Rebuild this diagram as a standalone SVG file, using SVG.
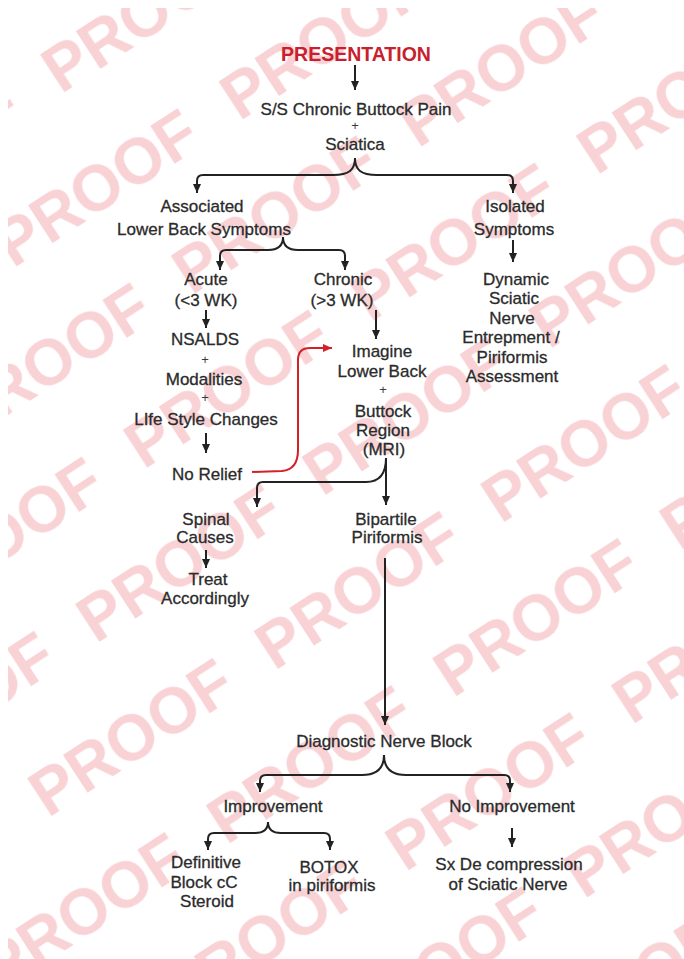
<svg xmlns="http://www.w3.org/2000/svg" width="684" height="959" viewBox="0 0 684 959">
<style>
  .t { font-family: "Liberation Sans", Arial, sans-serif; font-size: 17px; fill: #2b2b2b; stroke: #2b2b2b; stroke-width: 0.3; text-anchor: middle; }
  .p { font-family: "Liberation Sans", Arial, sans-serif; font-size: 13px; fill: #3a3a3a; text-anchor: middle; }
  .title { font-family: "Liberation Sans", Arial, sans-serif; font-size: 19.5px; font-weight: bold; fill: #c8202c; text-anchor: middle; }
  .c { fill: none; stroke: #222; stroke-width: 2; marker-end: url(#ah); }
  .red { fill: none; stroke: #d61f26; stroke-width: 2; marker-end: url(#ahr); }
  .wm { font-family: "Liberation Sans", Arial, sans-serif; font-size: 64px; font-weight: bold; fill: #f8d2d5; }
</style>
<defs>
  <marker id="ah" markerUnits="userSpaceOnUse" markerWidth="10" markerHeight="10" refX="9" refY="4" orient="auto">
    <path d="M0,0 L9,4 L0,8 z" fill="#222"/>
  </marker>
  <marker id="ahr" markerUnits="userSpaceOnUse" markerWidth="10" markerHeight="10" refX="9" refY="4" orient="auto">
    <path d="M0,0 L9,4 L0,8 z" fill="#d61f26"/>
  </marker>
  <pattern id="wmp" patternUnits="userSpaceOnUse" width="270" height="240" patternTransform="translate(380,90) rotate(-33)">
    <text class="wm" x="0" y="70">PROOF</text>
    <text class="wm" x="-135" y="190">PROOF</text>
    <text class="wm" x="135" y="190">PROOF</text>
  </pattern>
</defs>
<rect width="684" height="959" fill="#ffffff"/>
<g id="watermark">
  <rect x="8" y="8" width="676" height="951" fill="url(#wmp)"/>
</g>
<g id="connectors">
  <path class="c" d="M355,65 L355,90"/>
  <path class="c" d="M355,158 C355,170 349,175 333,175 L203,175 Q197,175 197,181 L197,193"/>
  <path class="c" d="M355,158 C355,170 361,175 377,175 L507,175 Q513,175 513,181 L513,193"/>
  <path class="c" d="M513,240 L513,262"/>
  <path class="c" d="M283,237 C283,246 278,250 268,250 L226,250 Q220,250 220,256 L220,270"/>
  <path class="c" d="M283,237 C283,246 288,250 298,250 L339,250 Q345,250 345,256 L345,270"/>
  <path class="c" d="M206,310 L206,328"/>
  <path class="c" d="M376,310 L376,339"/>
  <path class="c" d="M206,433 L206,453"/>
  <path class="red" d="M252,472 L282,471 C293,470 298,462 298,450 L298,360 C298,352 302,348 310,348 L332,348"/>
  <path class="c" d="M386,458 C386,474 380,482 366,482 L263,482 Q257,482 257,488 L257,507"/>
  <path class="c" d="M386,458 L386,505"/>
  <path class="c" d="M206,550 L206,568"/>
  <path class="c" d="M385,558 L385,725"/>
  <path class="c" d="M384,755 C384,767 378,775 362,775 L266,775 Q260,775 260,781 L260,792"/>
  <path class="c" d="M384,755 C384,767 390,775 406,775 L504,775 Q510,775 510,781 L510,792"/>
  <path class="c" d="M268,822 C268,829 264,833 255,833 L214,833 Q208,833 208,839 L208,850"/>
  <path class="c" d="M268,822 C268,829 272,833 281,833 L324,833 Q330,833 330,839 L330,850"/>
  <path class="c" d="M512,828 L512,847"/>
</g>
<g id="presentation"><text class="title" x="356" y="61">PRESENTATION</text></g>
<g id="ss">
  <text class="t" x="356" y="115">S/S Chronic Buttock Pain</text>
  <text class="p" x="355" y="130">+</text>
  <text class="t" x="355" y="150">Sciatica</text>
</g>
<g id="associated">
  <text class="t" x="202" y="212">Associated</text>
  <text class="t" x="204" y="235">Lower Back Symptoms</text>
</g>
<g id="isolated">
  <text class="t" x="515" y="212">Isolated</text>
  <text class="t" x="514" y="235">Symptoms</text>
</g>
<g id="acute">
  <text class="t" x="206" y="285">Acute</text>
  <text class="t" x="206" y="306">(&lt;3 WK)</text>
</g>
<g id="chronic">
  <text class="t" x="343" y="285">Chronic</text>
  <text class="t" x="342" y="306">(&gt;3 WK)</text>
</g>
<g id="dynamic">
  <text class="t" x="516" y="285">Dynamic</text>
  <text class="t" x="514" y="304">Sciatic</text>
  <text class="t" x="512" y="324">Nerve</text>
  <text class="t" x="511" y="343">Entrepment /</text>
  <text class="t" x="512" y="363">Piriformis</text>
  <text class="t" x="512" y="382">Assessment</text>
</g>
<g id="nsaids">
  <text class="t" x="205" y="345">NSALDS</text>
  <text class="p" x="205" y="364">+</text>
  <text class="t" x="204" y="385">Modalities</text>
  <text class="p" x="205" y="402">+</text>
  <text class="t" x="206" y="425">LIfe Style Changes</text>
</g>
<g id="norelief"><text class="t" x="207" y="480">No Relief</text></g>
<g id="imaging">
  <text class="t" x="382" y="357">Imagine</text>
  <text class="t" x="382" y="377">Lower Back</text>
  <text class="p" x="383" y="394">+</text>
  <text class="t" x="383" y="417">Buttock</text>
  <text class="t" x="383" y="436">Region</text>
  <text class="t" x="384" y="455">(MRI)</text>
</g>
<g id="spinal">
  <text class="t" x="206" y="525">Spinal</text>
  <text class="t" x="205" y="543">Causes</text>
</g>
<g id="treat">
  <text class="t" x="208" y="585">Treat</text>
  <text class="t" x="205" y="604">Accordingly</text>
</g>
<g id="bipartile">
  <text class="t" x="386" y="525">Bipartile</text>
  <text class="t" x="387" y="543">Piriformis</text>
</g>
<g id="diagnostic"><text class="t" x="384" y="747">Diagnostic Nerve Block</text></g>
<g id="improvement"><text class="t" x="273" y="812">Improvement</text></g>
<g id="noimprovement"><text class="t" x="512" y="812">No Improvement</text></g>
<g id="definitive">
  <text class="t" x="206" y="868">Definitive</text>
  <text class="t" x="204" y="888">Block cC</text>
  <text class="t" x="207" y="907">Steroid</text>
</g>
<g id="botox">
  <text class="t" x="329" y="873">BOTOX</text>
  <text class="t" x="332" y="891">in piriformis</text>
</g>
<g id="sx">
  <text class="t" x="509" y="870">Sx De compression</text>
  <text class="t" x="508" y="890">of Sciatic Nerve</text>
</g>
</svg>
